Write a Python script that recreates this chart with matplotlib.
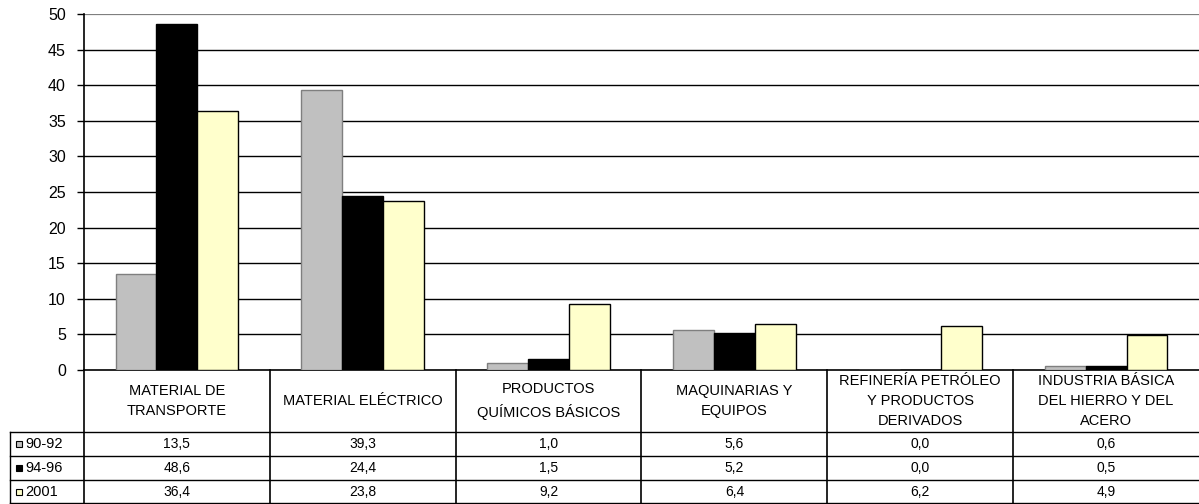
"""Bar chart with data table: sector shares for three periods."""

import numpy as np
import matplotlib.pyplot as plt
from matplotlib import transforms

plt.rcParams['font.family'] = ['Liberation Sans', 'DejaVu Sans']

categories = [
    'MATERIAL DE\nTRANSPORTE',
    'MATERIAL ELÉCTRICO',
    'PRODUCTOS\nQUÍMICOS BÁSICOS',
    'MAQUINARIAS Y\nEQUIPOS',
    'REFINERÍA PETRÓLEO\nY PRODUCTOS\nDERIVADOS',
    'INDUSTRIA BÁSICA\nDEL HIERRO Y DEL\nACERO',
]
series_names = ['90-92', '94-96', '2001']
vals_90_92 = [13.5, 39.3, 1.0, 5.6, 0.0, 0.6]
vals_94_96 = [48.6, 24.4, 1.5, 5.2, 0.0, 0.5]
vals_2001 = [36.4, 23.8, 9.2, 6.4, 6.2, 4.9]
yticks = list(range(0, 51, 5))

series = [vals_90_92, vals_94_96, vals_2001]
faces = ['#C0C0C0', '#000000', '#FFFFCC']
edges = ['#7F7F7F', '#000000', '#000000']

fig = plt.figure(figsize=(11.99, 5.04), dpi=100)
ax = fig.add_axes([84 / 1199, 134 / 504, 1115 / 1199, 356 / 504])

x = np.arange(len(categories))
w = 0.22

# Gridlines behind bars
for yv in yticks[1:-1]:
    ax.axhline(yv, color='black', lw=1.0, zorder=1)
ax.axhline(50, color='#7F7F7F', lw=1.6, zorder=1)

for i, vals in enumerate(series):
    ax.bar(x + (i - 1) * w, vals, width=w, color=faces[i],
           edgecolor=edges[i], linewidth=1.0, zorder=3)

ax.set_xlim(-0.5, len(categories) - 0.5)
ax.set_ylim(0, 50)
ax.set_yticks(yticks)
ax.set_xticks([])
ax.tick_params(axis='y', length=5, width=1, direction='out', pad=8,
               labelsize=11.5, colors='black')
for s in ['top', 'right']:
    ax.spines[s].set_visible(False)
ax.spines['left'].set_linewidth(1.2)
ax.spines['bottom'].set_linewidth(1.2)

# Data table below the axes
blend = transforms.blended_transform_factory(ax.transData, ax.transAxes)
row_lines = [-0.1742, -0.2416, -0.309, -0.3736]
row_centers = [(row_lines[k] + row_lines[k + 1]) / 2 for k in range(3)]
leg_left = -0.0668

for k in range(len(categories)):
    ax.plot([k - 0.5, k - 0.5], [0, row_lines[-1]], color='black', lw=1.2,
            transform=blend, clip_on=False)
    ax.text(k, -0.087, categories[k], transform=blend, ha='center',
            va='center', fontsize=10.5, linespacing=1.55)
    for r in range(3):
        ax.text(k, row_centers[r], f'{series[r][k]:.1f}'.replace('.', ','),
                transform=blend, ha='center', va='center', fontsize=10)

for yl in row_lines:
    ax.plot([leg_left, 1.0], [yl, yl], color='black', lw=1.0,
            transform=ax.transAxes, clip_on=False)
ax.plot([leg_left, leg_left], [row_lines[0], row_lines[-1]], color='black',
        lw=1.0, transform=ax.transAxes, clip_on=False)

for r in range(3):
    ax.plot([-0.0587], [row_centers[r]], marker='s', markersize=5,
            markerfacecolor=faces[r], markeredgecolor='black',
            markeredgewidth=0.8, transform=ax.transAxes, clip_on=False)
    ax.text(-0.0529, row_centers[r], series_names[r], transform=ax.transAxes,
            ha='left', va='center', fontsize=10.5)

fig.savefig('out.png', dpi=100)
